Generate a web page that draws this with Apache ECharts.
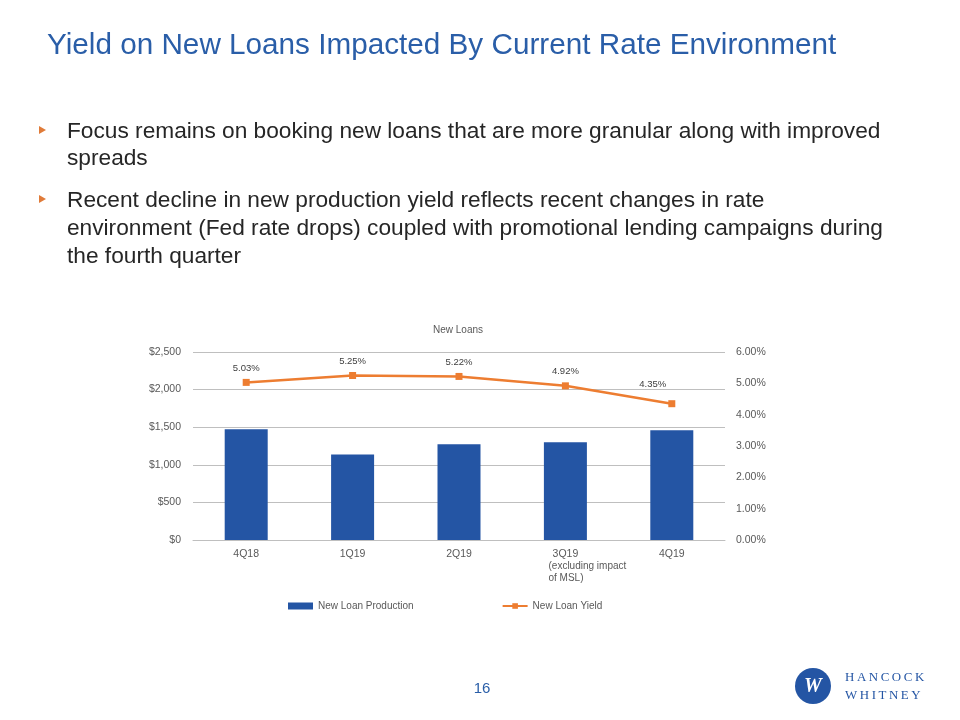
<!DOCTYPE html>
<html>
<head>
<meta charset="utf-8">
<script src="https://cdn.jsdelivr.net/npm/echarts/dist/echarts.min.js"></script>
<style>
html,body{margin:0;padding:0;background:#fff;}
#c{width:960px;height:720px;}
</style>
</head>
<body>
<div id="c"></div>
<script>
// ---- data ----
var categories = ['4Q18', '1Q19', '2Q19', '3Q19', '4Q19'];
var categoryNotes = ['', '', '', '(excluding impact\nof MSL)', ''];
var newLoanProduction = [1473, 1138, 1272, 1299, 1460];
var newLoanYield = [5.03, 5.25, 5.22, 4.92, 4.35];
var leftTicks = [0, 500, 1000, 1500, 2000, 2500];
var rightTicks = [0, 1, 2, 3, 4, 5, 6];
var slideTitle = 'Yield on New Loans Impacted By Current Rate Environment';
var bulletLines = [
  ['Focus remains on booking new loans that are more granular along with improved', 'spreads'],
  ['Recent decline in new production yield reflects recent changes in rate',
   'environment (Fed rate drops) coupled with promotional lending campaigns during',
   'the fourth quarter']
];
var chartTitle = 'New Loans';
var seriesNames = ['New Loan Production', 'New Loan Yield'];
var pageNumber = '16';

// ---- chart ----
var chart = echarts.init(document.getElementById('c'), null, {renderer: 'canvas'});
var FONT = '"Liberation Sans", Arial, sans-serif';
var BLUE = '#2455A4';
var ORANGE = '#ED7D31';
var AX = '#595959';

var graphics = [];
graphics.push({
  type: 'text', x: 47, y: 45.5,
  style: {text: slideTitle, fontFamily: FONT, fontSize: 29.7, fill: '#2A5EA8', verticalAlign: 'middle'}
});
var lineYs = [[131.5, 158.8], [200.5, 228.5, 256.5]];
var bulletYs = [130, 199];
bulletLines.forEach(function (lines, bi) {
  var by = bulletYs[bi];
  graphics.push({
    type: 'polygon',
    shape: {points: [[39, by - 4], [46, by], [39, by + 4]]},
    style: {fill: '#E07B39'}
  });
  lines.forEach(function (t, li) {
    graphics.push({
      type: 'text', x: 67, y: lineYs[bi][li],
      style: {text: t, fontFamily: FONT, fontSize: 22.7, fill: '#262626', verticalAlign: 'middle'}
    });
  });
});
graphics.push({
  type: 'text', x: 482, y: 689,
  style: {text: pageNumber, fontFamily: FONT, fontSize: 15, fill: '#2A5EA8', align: 'center', verticalAlign: 'middle'}
});
// logo
graphics.push({type: 'circle', shape: {cx: 813, cy: 686, r: 18}, style: {fill: '#2455A4'}});
graphics.push({
  type: 'text', x: 813, y: 687,
  style: {text: 'W', fontFamily: '"Liberation Serif", serif', fontWeight: 'bold', fontStyle: 'italic', fontSize: 20, fill: '#fff', align: 'center', verticalAlign: 'middle'}
});
graphics.push({
  type: 'text', x: 845, y: 678,
  style: {text: 'H\u2009A\u2009N\u2009C\u2009O\u2009C\u2009K', fontFamily: '"Liberation Serif", serif', fontSize: 12.9, fill: '#2455A4', verticalAlign: 'middle'}
});
graphics.push({
  type: 'text', x: 845, y: 696,
  style: {text: 'W\u2009H\u2009I\u2009T\u2009N\u2009E\u2009Y', fontFamily: '"Liberation Serif", serif', fontSize: 12.9, fill: '#2455A4', verticalAlign: 'middle'}
});

var lineData = newLoanYield.map(function (v, i) {
  if (i === newLoanYield.length - 1) {
    return {value: v, label: {offset: [-19, -5]}};
  }
  return v;
});

var option = {
  backgroundColor: '#fff',
  animation: false,
  textStyle: {fontFamily: FONT},
  title: {
    text: chartTitle, left: 453, top: 320, textAlign: 'center',
    textStyle: {fontSize: 10, fontWeight: 'normal', color: AX, fontFamily: FONT}
  },
  legend: {
    left: 283, top: 596, itemWidth: 25, itemHeight: 7, itemGap: 88,
    textStyle: {fontSize: 10, color: AX, fontFamily: FONT},
    data: [{name: seriesNames[0], icon: 'rect'}, {name: seriesNames[1]}]
  },
  grid: {left: 193, right: 235, top: 352, bottom: 180, containLabel: false},
  xAxis: {
    type: 'category', data: categories,
    axisLine: {lineStyle: {color: '#BFBFBF'}},
    axisTick: {show: false},
    axisLabel: {
      interval: 0, margin: 8, color: AX, fontSize: 10.5, fontFamily: FONT,
      formatter: function (v, i) {
        var note = categoryNotes[i];
        if (!note) return '{a|' + v + '}';
        return '{a|' + v + '}\n' + note.split('\n').map(function (s) { return '{b|' + s + '}'; }).join('\n');
      },
      rich: {
        a: {align: 'center', fontSize: 10.5, color: AX, fontFamily: FONT, lineHeight: 12},
        b: {align: 'left', fontSize: 10, color: AX, fontFamily: FONT, lineHeight: 12, padding: [0, 0, 0, 44]}
      }
    }
  },
  yAxis: [
    {
      type: 'value', min: leftTicks[0], max: leftTicks[leftTicks.length - 1], interval: leftTicks[1] - leftTicks[0],
      axisLine: {show: false}, axisTick: {show: false},
      splitLine: {lineStyle: {color: '#BFBFBF', width: 1}},
      axisLabel: {
        margin: 12, color: AX, fontSize: 10.5, fontFamily: FONT,
        formatter: function (v) { return '$' + v.toLocaleString('en-US'); }
      }
    },
    {
      type: 'value', min: rightTicks[0], max: rightTicks[rightTicks.length - 1], interval: rightTicks[1] - rightTicks[0],
      axisLine: {show: false}, axisTick: {show: false}, splitLine: {show: false},
      axisLabel: {
        margin: 11, color: AX, fontSize: 10.5, fontFamily: FONT,
        formatter: function (v) { return v.toFixed(2) + '%'; }
      }
    }
  ],
  series: [
    {
      name: seriesNames[0], type: 'bar', data: newLoanProduction, barWidth: 43,
      itemStyle: {color: BLUE}, yAxisIndex: 0
    },
    {
      name: seriesNames[1], type: 'line', data: lineData, yAxisIndex: 1,
      symbol: 'rect', symbolSize: 7,
      lineStyle: {color: ORANGE, width: 2.5}, itemStyle: {color: ORANGE},
      label: {
        show: true, position: 'top', distance: 6, color: '#404040', fontSize: 9.5, fontFamily: FONT,
        formatter: function (p) { return p.value.toFixed(2) + '%'; }
      },
      z: 5
    }
  ],
  graphic: graphics
};
chart.setOption(option);
</script>
</body>
</html>
